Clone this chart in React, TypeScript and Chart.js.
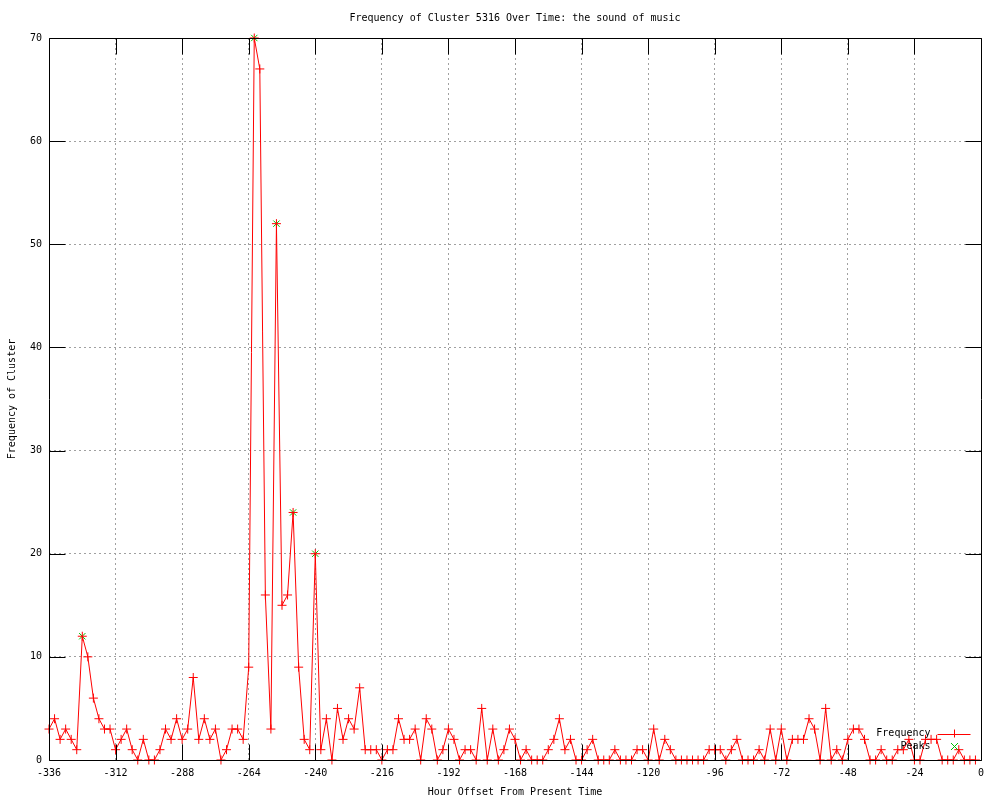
import React, { useEffect, useRef } from "react";
import { Chart, registerables } from "chart.js";

Chart.register(...registerables);

const chartTitle = "Frequency of Cluster 5316 Over Time: the sound of music";
const xAxisTitle = "Hour Offset From Present Time";
const yAxisTitle = "Frequency of Cluster";

const hours = [
  -336, -334, -332, -330, -328, -326, -324, -322, -320, -318, -316, -314,
  -312, -310, -308, -306, -304, -302, -300, -298, -296, -294, -292, -290,
  -288, -286, -284, -282, -280, -278, -276, -274, -272, -270, -268, -266,
  -264, -262, -260, -258, -256, -254, -252, -250, -248, -246, -244, -242,
  -240, -238, -236, -234, -232, -230, -228, -226, -224, -222, -220, -218,
  -216, -214, -212, -210, -208, -206, -204, -202, -200, -198, -196, -194,
  -192, -190, -188, -186, -184, -182, -180, -178, -176, -174, -172, -170,
  -168, -166, -164, -162, -160, -158, -156, -154, -152, -150, -148, -146,
  -144, -142, -140, -138, -136, -134, -132, -130, -128, -126, -124, -122,
  -120, -118, -116, -114, -112, -110, -108, -106, -104, -102, -100, -98,
  -96, -94, -92, -90, -88, -86, -84, -82, -80, -78, -76, -74,
  -72, -70, -68, -66, -64, -62, -60, -58, -56, -54, -52, -50,
  -48, -46, -44, -42, -40, -38, -36, -34, -32, -30, -28, -26,
  -24, -22, -20, -18, -16, -14, -12, -10, -8, -6, -4, -2,
];

const frequency = [
  3, 4, 2, 3, 2, 1, 12, 10, 6, 4, 3, 3,
  1, 2, 3, 1, 0, 2, 0, 0, 1, 3, 2, 4,
  2, 3, 8, 2, 4, 2, 3, 0, 1, 3, 3, 2,
  9, 70, 67, 16, 3, 52, 15, 16, 24, 9, 2, 1,
  20, 1, 4, 0, 5, 2, 4, 3, 7, 1, 1, 1,
  0, 1, 1, 4, 2, 2, 3, 0, 4, 3, 0, 1,
  3, 2, 0, 1, 1, 0, 5, 0, 3, 0, 1, 3,
  2, 0, 1, 0, 0, 0, 1, 2, 4, 1, 2, 0,
  0, 1, 2, 0, 0, 0, 1, 0, 0, 0, 1, 1,
  0, 3, 0, 2, 1, 0, 0, 0, 0, 0, 0, 1,
  1, 1, 0, 1, 2, 0, 0, 0, 1, 0, 3, 0,
  3, 0, 2, 2, 2, 4, 3, 0, 5, 0, 1, 0,
  2, 3, 3, 2, 0, 0, 1, 0, 0, 1, 1, 2,
  0, 0, 2, 2, 2, 0, 0, 0, 1, 0, 0, 0,
];

const peakHours = [-324, -262, -254, -248, -240];
const peakValues = [12, 70, 52, 24, 20];

const FONT = "'DejaVu Sans Mono', monospace";

export default function App() {
  const ref = useRef<HTMLCanvasElement>(null);

  useEffect(() => {
    document.body.style.margin = "0";
    const canvas = ref.current;
    if (!canvas) return;

    const framePlugin = {
      id: "gnuframe",
      afterDatasetsDraw(chart: any) {
        const { ctx, chartArea: a, scales } = chart;
        ctx.save();
        ctx.strokeStyle = "#000";
        ctx.lineWidth = 1;
        const L = Math.round(a.left) + 0.5;
        const R = Math.round(a.right) + 0.5;
        const T = Math.round(a.top) + 0.5;
        const B = Math.round(a.bottom) + 0.5;
        ctx.beginPath();
        ctx.rect(L, T, R - L, B - T);
        const tl = 16;
        scales.x.ticks.forEach((t: any) => {
          const px = Math.round(scales.x.getPixelForValue(t.value)) + 0.5;
          ctx.moveTo(px, B);
          ctx.lineTo(px, B - tl);
          ctx.moveTo(px, T);
          ctx.lineTo(px, T + tl);
        });
        scales.y.ticks.forEach((t: any) => {
          const py = Math.round(scales.y.getPixelForValue(t.value)) + 0.5;
          ctx.moveTo(L, py);
          ctx.lineTo(L + tl, py);
          ctx.moveTo(R, py);
          ctx.lineTo(R - tl, py);
        });
        ctx.stroke();

        // legend
        const ds = chart.data.datasets;
        ctx.font = `10px ${FONT}`;
        ctx.fillStyle = "#000";
        ctx.textAlign = "right";
        ctx.textBaseline = "middle";
        const tx = R - 51;
        const y1 = B - 27;
        const y2 = B - 14;
        const sx1 = R - 44;
        const sx2 = R - 11;
        const mx = Math.round((sx1 + sx2) / 2) + 0.5;
        ctx.fillText(ds[0].label, tx, y1);
        ctx.fillText(ds[1].label, tx, y2);
        ctx.strokeStyle = "#ff0000";
        ctx.beginPath();
        ctx.moveTo(sx1, Math.round(y1) + 0.5);
        ctx.lineTo(sx2, Math.round(y1) + 0.5);
        ctx.moveTo(mx, y1 - 4);
        ctx.lineTo(mx, y1 + 4);
        ctx.stroke();
        ctx.strokeStyle = "#00c000";
        ctx.beginPath();
        ctx.moveTo(mx - 3.5, y2 - 3.5);
        ctx.lineTo(mx + 3.5, y2 + 3.5);
        ctx.moveTo(mx + 3.5, y2 - 3.5);
        ctx.lineTo(mx - 3.5, y2 + 3.5);
        ctx.stroke();
        ctx.restore();
      },
    };

    const gridColor = (c: any) => {
      const n = c.scale.ticks.length;
      if (c.index === 0 || c.index === n - 1) return "rgba(0,0,0,0)";
      return "#a0a0a0";
    };

    const chart = new Chart(canvas, {
      type: "line",
      data: {
        datasets: [
          {
            label: "Frequency",
            data: hours.map((h, i) => ({ x: h, y: frequency[i] })),
            borderColor: "#ff0000",
            backgroundColor: "#ff0000",
            borderWidth: 1,
            pointStyle: "cross",
            pointRadius: 4.5,
            pointBorderColor: "#ff0000",
            pointBorderWidth: 1,
            tension: 0,
            fill: false,
            clip: false,
          } as any,
          {
            label: "Peaks",
            data: peakHours.map((h, i) => ({ x: h, y: peakValues[i] })),
            showLine: false,
            borderColor: "#00c000",
            backgroundColor: "#00c000",
            pointStyle: "crossRot",
            pointRadius: 4.5,
            pointBorderColor: "#00c000",
            pointBorderWidth: 1,
            clip: false,
          } as any,
        ],
      },
      options: {
        animation: false,
        responsive: false,
        devicePixelRatio: 1,
        layout: { padding: { left: 0, right: 19, top: 0, bottom: 0 } },
        plugins: {
          legend: { display: false },
          tooltip: { enabled: false },
          title: {
            display: true,
            fullSize: false,
            text: chartTitle,
            color: "#000",
            font: { family: FONT, size: 10, weight: "normal" },
            padding: { top: 12, bottom: 14 },
          },
        },
        scales: {
          x: {
            type: "linear",
            min: -336,
            max: 0,
            afterFit: (s: any) => {
              s.height = 40;
            },
            ticks: {
              stepSize: 24,
              autoSkip: false,
              maxRotation: 0,
              color: "#000",
              padding: 7,
              font: { family: FONT, size: 10 },
            },
            grid: { drawTicks: false, color: gridColor, lineWidth: 1 },
            border: { display: false, dash: [2, 3] },
            title: {
              display: true,
              text: xAxisTitle,
              color: "#000",
              font: { family: FONT, size: 10 },
              padding: { top: 2, bottom: 2 },
            },
          },
          y: {
            type: "linear",
            min: 0,
            max: 70,
            afterFit: (s: any) => {
              s.width = 49;
            },
            ticks: {
              stepSize: 10,
              color: "#000",
              padding: 7,
              font: { family: FONT, size: 10 },
            },
            grid: { drawTicks: false, color: gridColor, lineWidth: 1 },
            border: { display: false, dash: [2, 3] },
            title: {
              display: true,
              text: yAxisTitle,
              color: "#000",
              font: { family: FONT, size: 10 },
              padding: { top: 6, bottom: 6 },
            },
          },
        },
      } as any,
      plugins: [framePlugin],
    });

    return () => chart.destroy();
  }, []);

  return (
    <canvas
      ref={ref}
      width={1000}
      height={800}
      style={{ display: "block", width: 1000, height: 800 }}
    />
  );
}
